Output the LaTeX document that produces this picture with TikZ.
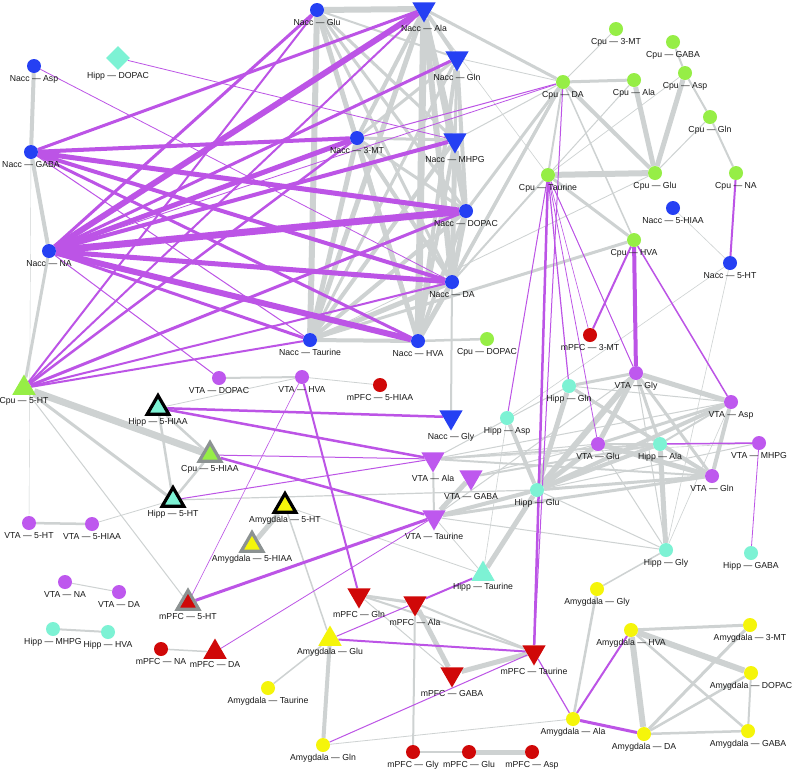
\documentclass[tikz,border=0pt]{standalone}
\usepackage{fontspec}
\setmainfont{Liberation Sans}
\usetikzlibrary{shapes.geometric,backgrounds}
\definecolor{naccblue}{RGB}{37, 64, 243}
\definecolor{cpugreen}{RGB}{150, 238, 70}
\definecolor{hippaqua}{RGB}{125, 242, 212}
\definecolor{vtaviolet}{RGB}{190, 88, 238}
\definecolor{mpfcred}{RGB}{208, 8, 8}
\definecolor{amyyellow}{RGB}{245, 245, 10}
\definecolor{edgegray}{RGB}{206, 210, 210}
\definecolor{edgepink}{RGB}{188, 84, 230}
\definecolor{rimgray}{RGB}{140, 146, 146}

\tikzset{
  dot/.style={circle, inner sep=0pt, minimum size=14pt},
  tridown/.style={regular polygon, regular polygon sides=3, shape border rotate=180,
                  inner sep=0pt, minimum size=27pt},
  triup/.style={regular polygon, regular polygon sides=3, inner sep=0pt, minimum size=27pt},
  rimblack/.style={draw=black, line width=3.2pt, minimum size=25pt},
  rimgrey/.style={draw=rimgray, line width=3.2pt, minimum size=25pt},
  lbl/.style={font=\fontsize{8.7}{10}\selectfont, text=black!90, inner sep=1pt},
  grayedge/.style={draw=edgegray},
  pinkedge/.style={draw=edgepink},
  every label/.style={label distance=1pt}
}

\begin{document}
\begin{tikzpicture}[x=1pt, y=-1pt]
  \useasboundingbox (0,0) rectangle (793,769);

  % Nacc
  \node[dot, fill=naccblue, label={[lbl]below:Nacc — Asp}] (NaccAsp) at (34,66) {};
  \node[dot, fill=naccblue, label={[lbl]below:Nacc — GABA}] (NaccGABA) at (31,152) {};
  \node[dot, fill=naccblue, label={[lbl]below:Nacc — NA}] (NaccNA) at (49,251) {};
  \node[dot, fill=naccblue, label={[lbl]below:Nacc — Glu}] (NaccGlu) at (317,10) {};
  \node[tridown, fill=naccblue, label={[lbl]below:Nacc — Ala}] (NaccAla) at (424,9) {};
  \node[tridown, fill=naccblue, label={[lbl]below:Nacc — Gln}] (NaccGln) at (457,58) {};
  \node[dot, fill=naccblue, label={[lbl]below:Nacc — 3-MT}] (Nacc3MT) at (357,138) {};
  \node[tridown, fill=naccblue, label={[lbl]below:Nacc — MHPG}] (NaccMHPG) at (455,140) {};
  \node[dot, fill=naccblue, label={[lbl]below:Nacc — DOPAC}] (NaccDOPAC) at (466,211) {};
  \node[dot, fill=naccblue, label={[lbl]below:Nacc — DA}] (NaccDA) at (452,282) {};
  \node[dot, fill=naccblue, label={[lbl]below:Nacc — Taurine}] (NaccTaurine) at (310,340) {};
  \node[dot, fill=naccblue, label={[lbl]below:Nacc — HVA}] (NaccHVA) at (418,341) {};
  \node[tridown, fill=naccblue, label={[lbl]below:Nacc — Gly}] (NaccGly) at (451,417) {};
  \node[dot, fill=naccblue, label={[lbl]below:Nacc — 5-HIAA}] (Nacc5HIAA) at (673,208) {};
  \node[dot, fill=naccblue, label={[lbl]below:Nacc — 5-HT}] (Nacc5HT) at (730,263) {};

  % Cpu
  \node[dot, fill=cpugreen, label={[lbl]below:Cpu — 3-MT}] (Cpu3MT) at (616,29) {};
  \node[dot, fill=cpugreen, label={[lbl]below:Cpu — GABA}] (CpuGABA) at (673,42) {};
  \node[dot, fill=cpugreen, label={[lbl]below:Cpu — DA}] (CpuDA) at (563,82) {};
  \node[dot, fill=cpugreen, label={[lbl]below:Cpu — Ala}] (CpuAla) at (634,80) {};
  \node[dot, fill=cpugreen, label={[lbl]below:Cpu — Asp}] (CpuAsp) at (685,73) {};
  \node[dot, fill=cpugreen, label={[lbl]below:Cpu — Gln}] (CpuGln) at (710,117) {};
  \node[dot, fill=cpugreen, label={[lbl]below:Cpu — Taurine}] (CpuTaurine) at (548,175) {};
  \node[dot, fill=cpugreen, label={[lbl]below:Cpu — Glu}] (CpuGlu) at (655,173) {};
  \node[dot, fill=cpugreen, label={[lbl]below:Cpu — NA}] (CpuNA) at (736,173) {};
  \node[dot, fill=cpugreen, label={[lbl]below:Cpu — HVA}] (CpuHVA) at (634,240) {};
  \node[dot, fill=cpugreen, label={[lbl]below:Cpu — DOPAC}] (CpuDOPAC) at (487,339) {};
  \node[triup, fill=cpugreen, label={[lbl]below:Cpu — 5-HT}] (Cpu5HT) at (24,388) {};
  \node[triup, rimgrey, fill=cpugreen, label={[lbl]below:Cpu — 5-HIAA}] (Cpu5HIAA) at (210,455) {};

  % Hipp
  \node[diamond, aspect=1, inner sep=0pt, minimum size=24pt, fill=hippaqua,
        label={[lbl]below:Hipp — DOPAC}] (HippDOPAC) at (118,58) {};
  \node[triup, rimblack, fill=hippaqua, label={[lbl]below:Hipp — 5-HIAA}] (Hipp5HIAA) at (158,408) {};
  \node[triup, rimblack, fill=hippaqua, label={[lbl]below:Hipp — 5-HT}] (Hipp5HT) at (173,500) {};
  \node[dot, fill=hippaqua, label={[lbl]below:Hipp — Gln}] (HippGln) at (569,386) {};
  \node[dot, fill=hippaqua, label={[lbl]below:Hipp — Asp}] (HippAsp) at (507,418) {};
  \node[dot, fill=hippaqua, label={[lbl]below:Hipp — Ala}] (HippAla) at (660,444) {};
  \node[dot, fill=hippaqua, label={[lbl]below:Hipp — Glu}] (HippGlu) at (537,490) {};
  \node[dot, fill=hippaqua, label={[lbl]below:Hipp — Gly}] (HippGly) at (666,550) {};
  \node[dot, fill=hippaqua, label={[lbl]below:Hipp — GABA}] (HippGABA) at (751,553) {};
  \node[triup, fill=hippaqua, label={[lbl]below:Hipp — Taurine}] (HippTaurine) at (483,574) {};
  \node[dot, fill=hippaqua, label={[lbl]below:Hipp — MHPG}] (HippMHPG) at (53,629) {};
  \node[dot, fill=hippaqua, label={[lbl]below:Hipp — HVA}] (HippHVA) at (108,632) {};

  % VTA
  \node[dot, fill=vtaviolet, label={[lbl]below:VTA — DOPAC}] (VTADOPAC) at (219,378) {};
  \node[dot, fill=vtaviolet, label={[lbl]below:VTA — HVA}] (VTAHVA) at (302,377) {};
  \node[dot, fill=vtaviolet, label={[lbl]below:VTA — Gly}] (VTAGly) at (636,373) {};
  \node[dot, fill=vtaviolet, label={[lbl]below:VTA — Asp}] (VTAAsp) at (731,402) {};
  \node[dot, fill=vtaviolet, label={[lbl]below:VTA — Glu}] (VTAGlu) at (598,444) {};
  \node[dot, fill=vtaviolet, label={[lbl]below:VTA — MHPG}] (VTAMHPG) at (759,443) {};
  \node[dot, fill=vtaviolet, label={[lbl]below:VTA — Gln}] (VTAGln) at (712,476) {};
  \node[tridown, fill=vtaviolet, label={[lbl]below:VTA — Ala}] (VTAAla) at (433,459) {};
  \node[tridown, fill=vtaviolet, label={[lbl]below:VTA — GABA}] (VTAGABA) at (471,477) {};
  \node[tridown, fill=vtaviolet, label={[lbl]below:VTA — Taurine}] (VTATaurine) at (434,517) {};
  \node[dot, fill=vtaviolet, label={[lbl]below:VTA — 5-HT}] (VTA5HT) at (29,523) {};
  \node[dot, fill=vtaviolet, label={[lbl]below:VTA — 5-HIAA}] (VTA5HIAA) at (92,524) {};
  \node[dot, fill=vtaviolet, label={[lbl]below:VTA — NA}] (VTANA) at (65,582) {};
  \node[dot, fill=vtaviolet, label={[lbl]below:VTA — DA}] (VTADA) at (119,592) {};

  % mPFC
  \node[dot, fill=mpfcred, label={[lbl]below:mPFC — 5-HIAA}] (mPFC5HIAA) at (380,385) {};
  \node[dot, fill=mpfcred, label={[lbl]below:mPFC — 3-MT}] (mPFC3MT) at (590,335) {};
  \node[triup, rimgrey, fill=mpfcred, label={[lbl]below:mPFC — 5-HT}] (mPFC5HT) at (188,603) {};
  \node[dot, fill=mpfcred, label={[lbl]below:mPFC — NA}] (mPFCNA) at (161,649) {};
  \node[triup, fill=mpfcred, label={[lbl]below:mPFC — DA}] (mPFCDA) at (215,652) {};
  \node[tridown, fill=mpfcred, label={[lbl]below:mPFC — Gln}] (mPFCGln) at (359,595) {};
  \node[tridown, fill=mpfcred, label={[lbl]below:mPFC — Ala}] (mPFCAla) at (415,603) {};
  \node[tridown, fill=mpfcred, label={[lbl]below:mPFC — GABA}] (mPFCGABA) at (452,674) {};
  \node[tridown, fill=mpfcred, label={[lbl]below:mPFC — Taurine}] (mPFCTaurine) at (534,652) {};
  \node[dot, fill=mpfcred, label={[lbl]below:mPFC — Gly}] (mPFCGly) at (413,752) {};
  \node[dot, fill=mpfcred, label={[lbl]below:mPFC — Glu}] (mPFCGlu) at (469,752) {};
  \node[dot, fill=mpfcred, label={[lbl]below:mPFC — Asp}] (mPFCAsp) at (532,752) {};

  % Amygdala
  \node[triup, rimblack, fill=amyyellow, label={[lbl]below:Amygdala — 5-HT}] (Amy5HT) at (285,506) {};
  \node[triup, rimgrey, fill=amyyellow, label={[lbl]below:Amygdala — 5-HIAA}] (Amy5HIAA) at (252,545) {};
  \node[triup, fill=amyyellow, label={[lbl]below:Amygdala — Glu}] (AmyGlu) at (330,639) {};
  \node[dot, fill=amyyellow, label={[lbl]below:Amygdala — Taurine}] (AmyTaurine) at (268,688) {};
  \node[dot, fill=amyyellow, label={[lbl]below:Amygdala — Gln}] (AmyGln) at (323,745) {};
  \node[dot, fill=amyyellow, label={[lbl]below:Amygdala — Gly}] (AmyGly) at (597,589) {};
  \node[dot, fill=amyyellow, label={[lbl]below:Amygdala — HVA}] (AmyHVA) at (631,630) {};
  \node[dot, fill=amyyellow, label={[lbl]below:Amygdala — 3-MT}] (Amy3MT) at (750,625) {};
  \node[dot, fill=amyyellow, label={[lbl]below:Amygdala — DOPAC}] (AmyDOPAC) at (751,673) {};
  \node[dot, fill=amyyellow, label={[lbl]below:Amygdala — Ala}] (AmyAla) at (573,719) {};
  \node[dot, fill=amyyellow, label={[lbl]below:Amygdala — DA}] (AmyDA) at (644,734) {};
  \node[dot, fill=amyyellow, label={[lbl]below:Amygdala — GABA}] (AmyGABA) at (748,731) {};

  \begin{scope}[on background layer]
    \fill[white] (0,0) rectangle (793,769);
    % gray links
    \foreach \a/\b/\w in {
      NaccGlu/NaccAla/6, NaccGlu/NaccTaurine/6, NaccGlu/NaccHVA/5, NaccGlu/NaccDA/3,
      NaccGlu/NaccDOPAC/3, NaccGlu/NaccMHPG/3, NaccGlu/Nacc3MT/3, NaccGlu/NaccGln/2,
      NaccAla/NaccTaurine/5, NaccAla/NaccHVA/7, NaccAla/NaccDA/6, NaccAla/NaccDOPAC/5,
      NaccAla/NaccGln/4, NaccAla/NaccMHPG/4, NaccAla/Nacc3MT/4, NaccAla/CpuDA/3,
      NaccAla/CpuTaurine/0.6, NaccGln/NaccMHPG/3, NaccGln/NaccDOPAC/4, NaccGln/NaccTaurine/3,
      NaccGln/NaccHVA/4, NaccGln/Nacc3MT/3, NaccGln/CpuDA/0.8, Nacc3MT/NaccMHPG/3,
      Nacc3MT/NaccTaurine/5, Nacc3MT/NaccHVA/4, Nacc3MT/NaccDA/4, Nacc3MT/NaccDOPAC/3,
      NaccMHPG/NaccDOPAC/4, NaccMHPG/NaccTaurine/4, NaccMHPG/NaccHVA/4, NaccMHPG/NaccDA/5,
      NaccMHPG/CpuDA/1, NaccDOPAC/NaccDA/5, NaccDOPAC/NaccTaurine/4, NaccDOPAC/NaccHVA/4,
      NaccDOPAC/CpuDA/3, NaccDA/NaccTaurine/5, NaccDA/NaccHVA/5, NaccDA/CpuDA/3,
      NaccDA/CpuTaurine/2, NaccDA/NaccGly/2, NaccTaurine/NaccHVA/4, NaccTaurine/CpuHVA/3,
      NaccTaurine/CpuGlu/0.8, NaccHVA/CpuDOPAC/2.5, NaccHVA/CpuDA/3,
      NaccNA/NaccGABA/4, NaccGABA/NaccAsp/4, NaccNA/Cpu5HT/3, NaccGABA/VTA5HT/0.4,
      Cpu3MT/CpuDA/1, CpuGABA/CpuAsp/2, CpuDA/CpuAla/3, CpuDA/CpuGlu/4, CpuDA/CpuTaurine/2,
      CpuDA/CpuHVA/1.5, CpuAla/CpuGlu/5, CpuAsp/CpuGlu/5, CpuAsp/CpuGln/2, CpuGln/CpuNA/2,
      CpuGln/CpuGlu/1, CpuTaurine/CpuGlu/6, CpuTaurine/CpuHVA/3, CpuTaurine/CpuAla/1,
      CpuTaurine/CpuAsp/0.7, Nacc5HIAA/Nacc5HT/0.6, Nacc5HT/HippGly/0.6, Nacc5HT/HippAsp/0.6,
      Cpu5HT/Cpu5HIAA/7, Cpu5HT/Hipp5HT/3, Cpu5HT/mPFC5HT/1, Hipp5HIAA/Hipp5HT/2.5,
      Hipp5HIAA/Cpu5HIAA/2.5, Cpu5HIAA/Hipp5HT/2.5, Hipp5HIAA/VTAHVA/0.8, VTADOPAC/VTAHVA/2,
      VTAHVA/mPFC5HIAA/0.8, VTA5HT/VTA5HIAA/2.5, VTA5HIAA/Hipp5HT/0.8, Hipp5HT/HippGlu/1.2,
      Amy5HT/Amy5HIAA/5, Amy5HT/AmyGlu/1.5, Amy5HT/HippTaurine/0.8, VTANA/VTADA/1,
      HippMHPG/HippHVA/2, mPFCNA/mPFCDA/1.5,
      VTAAla/VTATaurine/2, VTAGABA/VTATaurine/5, VTAAla/VTAGlu/1, VTAAla/HippAla/2,
      VTAAla/VTAGln/2, VTAAla/VTAAsp/1, VTAAla/HippGln/1, VTAAla/VTAMHPG/0.6,
      VTAGABA/HippAla/2, VTAGABA/VTAGlu/1, VTATaurine/HippGlu/4, VTATaurine/VTAGln/3,
      VTATaurine/HippTaurine/0.8, VTATaurine/VTAGly/1, VTATaurine/HippGly/1,
      HippGlu/HippGln/5, HippGlu/VTAGly/6, HippGlu/VTAGlu/5, HippGlu/HippAla/4,
      HippGlu/VTAAsp/4, HippGlu/VTAGln/3, HippGlu/HippTaurine/5, HippGlu/HippAsp/4,
      HippGlu/HippGly/1, HippGlu/VTAMHPG/1, VTAGly/HippGln/3, VTAGly/VTAAsp/5,
      VTAGly/VTAGlu/5, VTAGly/HippAla/3, VTAGly/VTAGln/3, HippGln/HippAla/3,
      HippGln/VTAGln/3, HippGln/VTAAsp/1, VTAAsp/VTAGlu/3, VTAAsp/HippAla/2,
      VTAAsp/VTAGln/4, VTAAsp/HippGly/0.6, VTAGlu/HippAla/2, VTAGlu/VTAGln/5,
      HippAla/VTAGln/4, HippAla/HippGly/5, VTAGlu/HippGly/1, VTAGly/HippGly/1,
      HippGly/AmyGly/1.5, HippAsp/HippTaurine/0.6,
      mPFCGln/mPFCAla/3, mPFCGln/mPFCTaurine/2, mPFCGln/mPFCGABA/1, mPFCAla/mPFCGABA/5,
      mPFCAla/mPFCTaurine/2, mPFCAla/mPFCGly/2, mPFCGABA/mPFCTaurine/5, mPFCGly/mPFCGlu/2,
      mPFCGlu/mPFCAsp/5, AmyGlu/AmyTaurine/1.5, AmyGlu/AmyGln/4, AmyGln/AmyAla/0.8,
      AmyGly/AmyAla/2.5, AmyHVA/Amy3MT/3, AmyHVA/AmyDOPAC/6, AmyHVA/AmyDA/6,
      AmyHVA/AmyGABA/2.5, Amy3MT/AmyDA/3, AmyDOPAC/AmyDA/2.5, AmyDOPAC/AmyGABA/2,
      AmyDA/AmyGABA/2.5}
      \draw[grayedge, line width=\w pt] (\a) -- (\b);
    % pink links
    \foreach \a/\b/\w in {
      NaccNA/NaccAla/6, NaccNA/NaccGlu/3, NaccNA/NaccGln/3, NaccNA/Nacc3MT/5,
      NaccNA/NaccMHPG/4, NaccNA/NaccDOPAC/7, NaccNA/NaccDA/5, NaccNA/NaccHVA/6,
      NaccNA/NaccTaurine/3, NaccNA/VTADOPAC/1, NaccNA/CpuDA/0.8,
      NaccGABA/NaccAla/3, NaccGABA/Nacc3MT/4, NaccGABA/NaccDOPAC/5, NaccGABA/NaccDA/4,
      NaccGABA/NaccHVA/3, NaccGABA/NaccTaurine/1, NaccAsp/NaccDA/0.8,
      HippDOPAC/NaccMHPG/0.8, Cpu5HT/NaccGlu/2, Cpu5HT/NaccAla/2, Cpu5HT/Nacc3MT/2.5,
      Cpu5HT/NaccDOPAC/3, Cpu5HT/NaccDA/2, Cpu5HT/NaccTaurine/2, Nacc3MT/CpuDA/1,
      Hipp5HIAA/NaccGly/2.5, Hipp5HIAA/VTAAla/2.5, Cpu5HIAA/VTATaurine/2.5,
      Cpu5HIAA/VTAAla/1, Hipp5HT/VTAAla/1, mPFC5HT/VTATaurine/3, mPFC5HT/VTAHVA/0.6,
      VTAHVA/mPFCGln/2, mPFCDA/VTATaurine/0.8, AmyGlu/mPFCTaurine/2, AmyGlu/mPFCAla/1,
      mPFCAla/HippTaurine/2, AmyGln/mPFCTaurine/1, CpuTaurine/mPFCTaurine/2.5,
      CpuTaurine/HippAsp/1, CpuTaurine/HippGln/1.2, CpuTaurine/VTAGlu/0.8,
      CpuTaurine/VTAGly/1, CpuTaurine/mPFC3MT/0.6, CpuDA/mPFCTaurine/1,
      CpuHVA/VTAGly/4, CpuHVA/mPFC3MT/2, CpuHVA/VTAAsp/1.5, CpuNA/Nacc5HT/2,
      HippAla/VTAMHPG/1.5, VTAMHPG/HippGABA/0.8, mPFCTaurine/AmyAla/1.2,
      AmyAla/AmyHVA/2, AmyAla/AmyDA/3}
      \draw[pinkedge, line width=\w pt] (\a) -- (\b);
  \end{scope}
\end{tikzpicture}
\end{document}
